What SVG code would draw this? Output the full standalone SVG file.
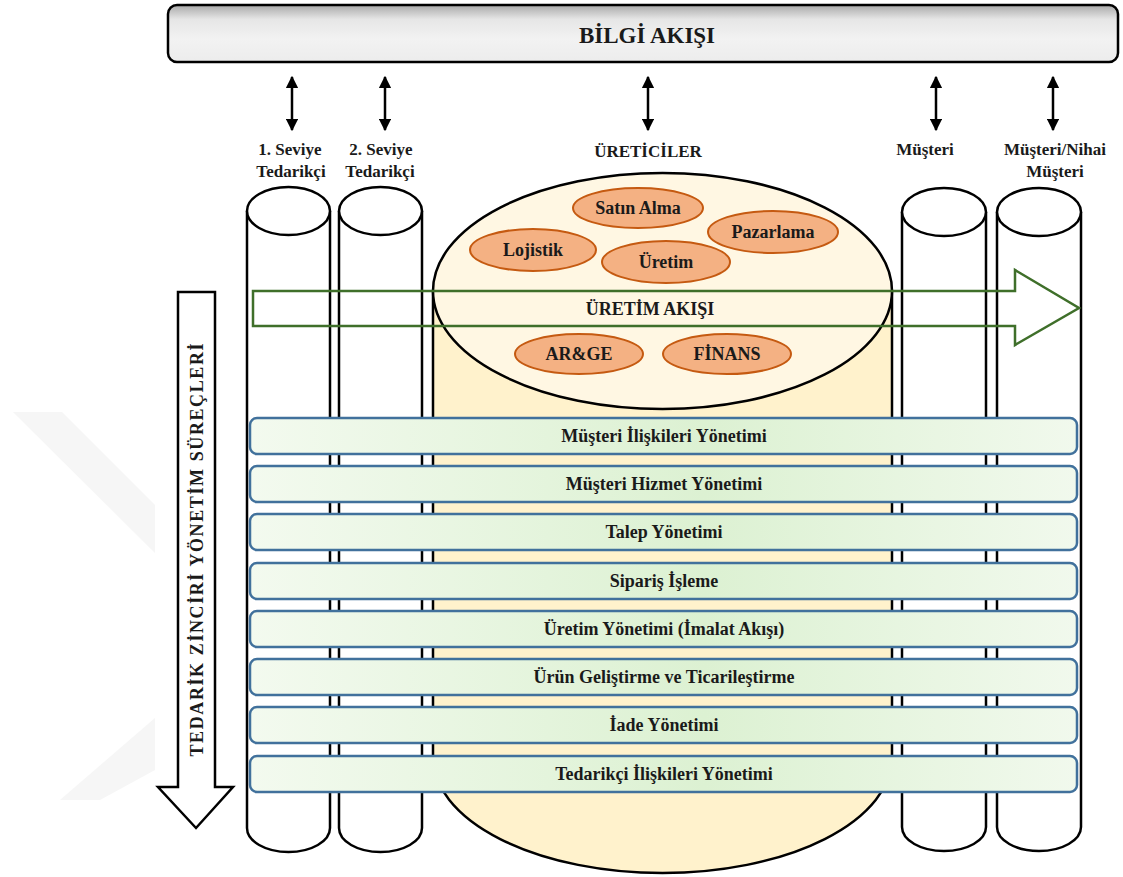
<svg xmlns="http://www.w3.org/2000/svg" width="1123" height="877" viewBox="0 0 1123 877">
  <defs>
    <linearGradient id="boxGrad" x1="0" y1="0" x2="0" y2="1">
      <stop offset="0" stop-color="#a9a9a9"/>
      <stop offset="0.25" stop-color="#e6e6e6"/>
      <stop offset="0.6" stop-color="#f2f2f2"/>
      <stop offset="1" stop-color="#ececec"/>
    </linearGradient>
    <linearGradient id="barGrad" x1="0" y1="0" x2="1" y2="0">
      <stop offset="0" stop-color="#f3faef"/>
      <stop offset="0.55" stop-color="#dcf1d2"/>
      <stop offset="1" stop-color="#f1f9ed"/>
    </linearGradient>
    <marker id="head" viewBox="0 0 10 10" refX="9" refY="5" markerWidth="5" markerHeight="5" orient="auto-start-reverse" markerUnits="strokeWidth">
      <path d="M0,0 L10,5 L0,10 Z" fill="#000"/>
    </marker>
  </defs>
  <style>
    text { font-weight: 700; fill: #1a1a1a; text-anchor: middle; }
    .lbl { font-size: 17px; }
    .bar { fill: url(#barGrad); stroke: #41719c; stroke-width: 2.5; }
    .bartxt { font-size: 18px; }
    .cyl { fill: #fff; stroke: #000; stroke-width: 2.5; }
    .dept { fill: #f4b183; stroke: #c55a11; stroke-width: 2; }
    .depttxt { font-size: 18px; }
    .link { stroke: #000; stroke-width: 2.5; fill: none; marker-start: url(#head); marker-end: url(#head); }
    .wm { fill: #f6f6f6; }
  </style>

  <rect width="1123" height="877" fill="#fff"/>

  <!-- faint background mark -->
  <g id="bgmark">
    <polygon class="wm" points="13,412 62,412 155,505 155,553"/>
    <polygon class="wm" points="155,718 155,770 100,800 60,800"/>
  </g>

  <g font-family="Liberation Serif, Times New Roman, Tinos, Noto Serif, DejaVu Serif, serif">
  <!-- information flow header -->
  <g id="bilgi-akisi">
    <rect x="168" y="5" width="950" height="57" rx="9" fill="url(#boxGrad)" stroke="#000" stroke-width="2.5"/>
    <text x="647" y="43" font-size="23">BİLGİ AKIŞI</text>
  </g>

  <!-- connectors between the header and the chain members -->
  <g id="connectors">
    <line class="link" x1="292" y1="77" x2="292" y2="130"/>
    <line class="link" x1="385" y1="77" x2="385" y2="130"/>
    <line class="link" x1="648" y1="77" x2="648" y2="130"/>
    <line class="link" x1="936" y1="77" x2="936" y2="130"/>
    <line class="link" x1="1053" y1="77" x2="1053" y2="130"/>
  </g>

  <!-- chain member labels -->
  <g id="labels">
    <text class="lbl" x="290" y="155">1. Seviye</text>
    <text class="lbl" x="291" y="177">Tedarikçi</text>
    <text class="lbl" x="381" y="155">2. Seviye</text>
    <text class="lbl" x="380" y="177">Tedarikçi</text>
    <text class="lbl" x="648" y="157">ÜRETİCİLER</text>
    <text class="lbl" x="925" y="155">Müşteri</text>
    <text class="lbl" x="1055" y="155">Müşteri/Nihai</text>
    <text class="lbl" x="1055" y="177">Müşteri</text>
  </g>

  <!-- manufacturer cylinder -->
  <g id="ureticiler">
    <path d="M433,291 L433,757 A229.5,116 0 0 0 892,757 L892,291 Z" fill="#fff2cc" stroke="#000" stroke-width="2.5"/>
    <ellipse cx="662.5" cy="291" rx="229.5" ry="118" fill="#fff7e3" stroke="#000" stroke-width="2.5"/>
  </g>

  <!-- supplier and customer cylinders -->
  <g id="tedarikci-1">
    <path class="cyl" d="M247,211 L247,828 A41.5,24 0 0 0 330,828 L330,211"/>
    <ellipse class="cyl" cx="288.5" cy="211" rx="41.5" ry="24"/>
  </g>
  <g id="tedarikci-2">
    <path class="cyl" d="M339,211 L339,828 A41.5,24 0 0 0 422,828 L422,211"/>
    <ellipse class="cyl" cx="380.5" cy="211" rx="41.5" ry="24"/>
  </g>
  <g id="musteri">
    <path class="cyl" d="M902,212 L902,827 A42,24 0 0 0 986,827 L986,212"/>
    <ellipse class="cyl" cx="944" cy="212" rx="42" ry="24"/>
  </g>
  <g id="nihai-musteri">
    <path class="cyl" d="M997,212 L997,827 A42,24 0 0 0 1081,827 L1081,212"/>
    <ellipse class="cyl" cx="1039" cy="212" rx="42" ry="24"/>
  </g>

  <!-- departments inside the manufacturer -->
  <g id="satin-alma">
    <ellipse class="dept" cx="638" cy="208" rx="65" ry="20"/>
    <text class="depttxt" x="638" y="214">Satın Alma</text>
  </g>
  <g id="pazarlama">
    <ellipse class="dept" cx="773" cy="232" rx="65" ry="21"/>
    <text class="depttxt" x="773" y="238">Pazarlama</text>
  </g>
  <g id="lojistik">
    <ellipse class="dept" cx="533" cy="250" rx="63" ry="21"/>
    <text class="depttxt" x="533" y="256">Lojistik</text>
  </g>
  <g id="uretim">
    <ellipse class="dept" cx="666" cy="262" rx="64" ry="21"/>
    <text class="depttxt" x="666" y="268">Üretim</text>
  </g>
  <g id="arge">
    <ellipse class="dept" cx="579" cy="354" rx="64" ry="20"/>
    <text class="depttxt" x="579" y="360">AR&amp;GE</text>
  </g>
  <g id="finans">
    <ellipse class="dept" cx="727" cy="354" rx="64" ry="20"/>
    <text class="depttxt" x="727" y="360">FİNANS</text>
  </g>

  <!-- production flow arrow -->
  <g id="uretim-akisi">
    <polygon points="253,291 1015,291 1015,270 1079,308 1015,345 1015,326 253,326" fill="none" stroke="#3f6f2a" stroke-width="2.5"/>
    <text x="650" y="315" font-size="18">ÜRETİM AKIŞI</text>
  </g>

  <!-- supply chain management processes -->
  <g id="surecler">
    <g id="p1"><rect class="bar" x="250" y="418" width="827" height="36" rx="7"/><text class="bartxt" x="664" y="442">Müşteri İlişkileri Yönetimi</text></g>
    <g id="p2"><rect class="bar" x="250" y="466" width="827" height="36" rx="7"/><text class="bartxt" x="664" y="490">Müşteri Hizmet Yönetimi</text></g>
    <g id="p3"><rect class="bar" x="250" y="514" width="827" height="36" rx="7"/><text class="bartxt" x="664" y="538">Talep Yönetimi</text></g>
    <g id="p4"><rect class="bar" x="250" y="563" width="827" height="36" rx="7"/><text class="bartxt" x="664" y="587">Sipariş İşleme</text></g>
    <g id="p5"><rect class="bar" x="250" y="611" width="827" height="36" rx="7"/><text class="bartxt" x="664" y="635">Üretim Yönetimi (İmalat Akışı)</text></g>
    <g id="p6"><rect class="bar" x="250" y="659" width="827" height="36" rx="7"/><text class="bartxt" x="664" y="683">Ürün Geliştirme ve Ticarileştirme</text></g>
    <g id="p7"><rect class="bar" x="250" y="707" width="827" height="36" rx="7"/><text class="bartxt" x="664" y="731">İade Yönetimi</text></g>
    <g id="p8"><rect class="bar" x="250" y="756" width="827" height="36" rx="7"/><text class="bartxt" x="664" y="780">Tedarikçi İlişkileri Yönetimi</text></g>
  </g>

  <!-- vertical process arrow -->
  <g id="tzy-surecleri">
    <polygon points="178,292 215,292 215,787 233,787 196,828 158,787 178,787" fill="#fff" stroke="#000" stroke-width="2.5"/>
    <text transform="translate(203,550) rotate(-90)" x="0" y="0" font-size="18" textLength="413" lengthAdjust="spacing">TEDARİK ZİNCİRİ YÖNETİM SÜREÇLERİ</text>
  </g>
  </g>
</svg>
